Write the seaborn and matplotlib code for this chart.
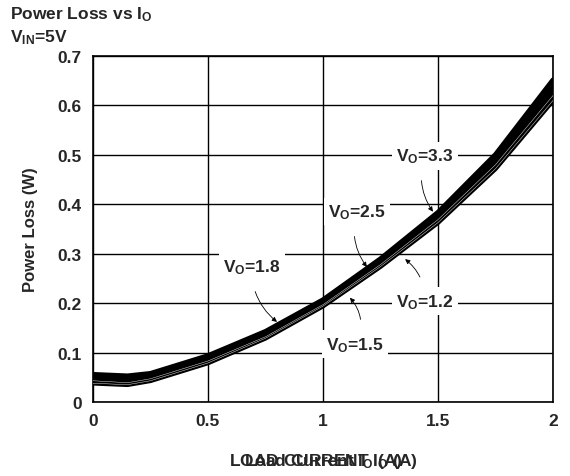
import numpy as np
import pandas as pd
import matplotlib
matplotlib.use("Agg")
import matplotlib.pyplot as plt
import seaborn as sns

# ---- data ----
load_current = [0.0, 0.15, 0.25, 0.5, 0.75, 1.0, 1.25, 1.5, 1.75, 2.0]
loss_vo12 = [0.038, 0.035, 0.043, 0.079, 0.129, 0.194, 0.274, 0.363, 0.472, 0.610]
loss_vo15 = [0.043, 0.039, 0.047, 0.083, 0.132, 0.197, 0.278, 0.369, 0.480, 0.620]
loss_vo18 = [0.047, 0.044, 0.051, 0.087, 0.136, 0.200, 0.282, 0.374, 0.488, 0.628]
loss_vo25 = [0.051, 0.048, 0.054, 0.090, 0.139, 0.203, 0.285, 0.378, 0.494, 0.638]
loss_vo33 = [0.056, 0.053, 0.058, 0.094, 0.143, 0.207, 0.290, 0.384, 0.501, 0.652]
series_names = ["1.2", "1.5", "1.8", "2.5", "3.3"]
x_ticks = [0, 0.5, 1, 1.5, 2]
x_tick_labels = ["0", "0.5", "1", "1.5", "2"]
y_ticks = [0, 0.1, 0.2, 0.3, 0.4, 0.5, 0.6, 0.7]
y_tick_labels = ["0", "0.1", "0.2", "0.3", "0.4", "0.5", "0.6", "0.7"]

all_series = [loss_vo12, loss_vo15, loss_vo18, loss_vo25, loss_vo33]
rows = []
for name, vals in zip(series_names, all_series):
    for x, v in zip(load_current, vals):
        rows.append({"I": x, "P": v, "Vo": name})
df = pd.DataFrame(rows)

sns.set_style("white")
plt.rcParams["font.family"] = ["Liberation Sans", "DejaVu Sans"]
plt.rcParams["font.weight"] = "bold"
plt.rcParams["mathtext.fontset"] = "custom"
plt.rcParams["mathtext.rm"] = "Liberation Sans:bold"
plt.rcParams["mathtext.it"] = "Liberation Sans:bold"
plt.rcParams["mathtext.bf"] = "Liberation Sans:bold"

fig = plt.figure(figsize=(5.7, 4.77), dpi=100)
ax = fig.add_axes([93 / 570, 1 - 403 / 477, 460 / 570, 346 / 477])

sns.lineplot(data=df, x="I", y="P", hue="Vo", palette={n: "black" for n in series_names},
             lw=3.4, legend=False, ax=ax, zorder=3)
sub = df[df["Vo"].isin(["1.2", "1.5"])]
sns.lineplot(data=sub, x="I", y="P", hue="Vo", palette={"1.2": "white", "1.5": "white"},
             lw=0.3, legend=False, ax=ax, zorder=4)

ax.set_xlim(0, 2)
ax.set_ylim(0, 0.7)
ax.set_xticks(x_ticks)
ax.set_xticklabels(x_tick_labels)
ax.set_yticks(y_ticks)
ax.set_yticklabels(y_tick_labels)
ax.tick_params(length=0, labelsize=12.5, pad=8)
for lbl in ax.get_xticklabels() + ax.get_yticklabels():
    lbl.set_fontweight("bold")
ax.grid(True, color="black", lw=1)
for s in ax.spines.values():
    s.set_color("black")
    s.set_linewidth(1.2)
ax.set_xlabel("")
ax.set_ylabel("Power Loss (W)", fontsize=12, fontweight="bold", labelpad=14)

# overlapping x labels as in the reference
fig.text(323 / 570, 1 - 462 / 477, r"LOAD CURRENT $\mathregular{I_O}$ (A)", ha="center",
         va="center", fontsize=12.5, fontweight="bold")
fig.text(323 / 570, 1 - 462 / 477, r"Load Current $\mathregular{I_O}$ (A)", ha="center",
         va="center", fontsize=12.5, fontweight="bold")

fig.text(10 / 570, 1 - 15 / 477, r"Power Loss vs $\mathregular{I_O}$", ha="left", va="center",
         fontsize=12.5, fontweight="bold")
fig.text(10 / 570, 1 - 38 / 477, r"$\mathregular{V_{IN}}$=5V", ha="left", va="center",
         fontsize=12.5, fontweight="bold")

bbox = dict(boxstyle="square,pad=0.25", fc="white", ec="none")
arrow = dict(arrowstyle="-|>", color="black", lw=0.6, mutation_scale=7)
annos = [
    (r"$\mathregular{V_O}$=3.3", (1.478, 0.385), (1.443, 0.498), "arc3,rad=0.25"),
    (r"$\mathregular{V_O}$=2.5", (1.191, 0.273), (1.148, 0.385), "arc3,rad=0.25"),
    (r"$\mathregular{V_O}$=1.2", (1.357, 0.289), (1.443, 0.204), "arc3,rad=0.25"),
    (r"$\mathregular{V_O}$=1.8", (0.80, 0.162), (0.691, 0.273), "arc3,rad=0.25"),
    (r"$\mathregular{V_O}$=1.5", (1.117, 0.211), (1.139, 0.117), "arc3,rad=0.35"),
]
for txt, xy, xytext, cs in annos:
    a = dict(arrow)
    a["connectionstyle"] = cs
    a["shrinkA"] = 8
    a["shrinkB"] = 0
    ax.annotate(txt, xy=xy, xytext=xytext, fontsize=12.5, fontweight="bold",
                ha="center", va="center", bbox=bbox, arrowprops=a, zorder=6)

fig.savefig("out.png", dpi=100)
